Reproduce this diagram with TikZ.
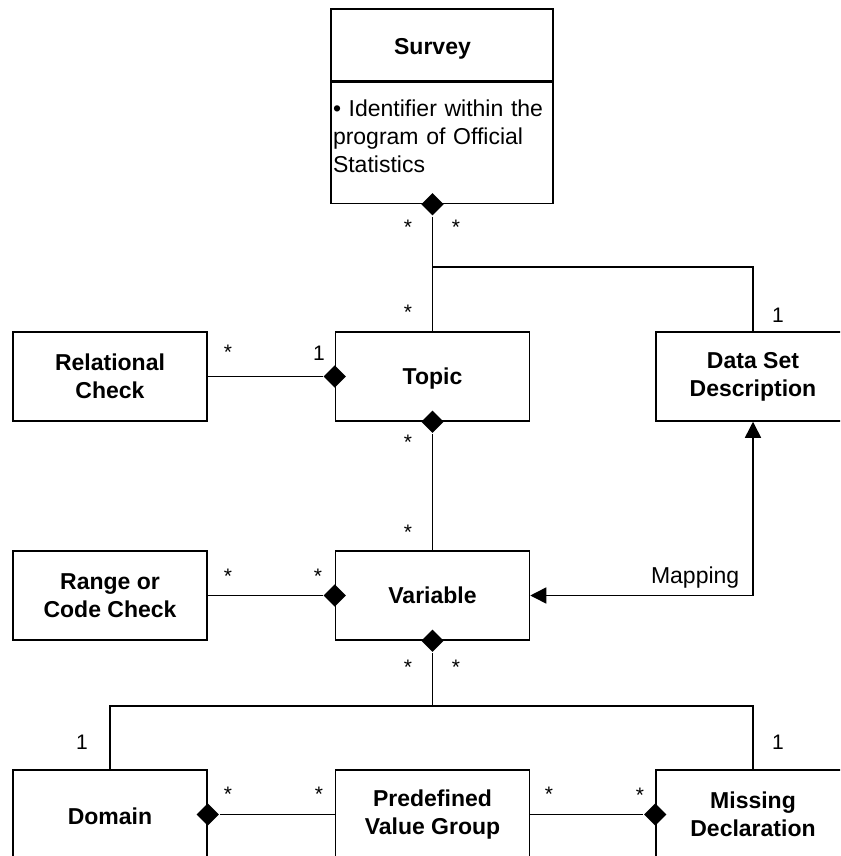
\documentclass[tikz,border=0pt]{standalone}
\usepackage{fontspec}
\setmainfont{Liberation Sans}
\usetikzlibrary{arrows.meta, shapes.geometric}

\begin{document}
\begin{tikzpicture}[x=1pt, y=-1pt, line width=1.5pt,
    >={Triangle[length=16pt, width=16pt]},
    cls/.style={draw, minimum width=194pt, minimum height=89pt, align=center,
        inner sep=2pt, font=\bfseries\fontsize{23}{28}\selectfont},
    agg/.style={diamond, fill=black, inner sep=0pt, minimum width=23pt, minimum height=23pt},
    mult/.style={inner sep=0pt, font=\fontsize{21}{24}\selectfont}]
    % Khung
    \useasboundingbox (0,0) rectangle (840,856);
    \clip (0,0) rectangle (840,856);

    % Survey
    \node[cls, minimum width=222pt, minimum height=72pt, text height=20pt, text depth=0pt]
        (survey) at (442,45) {Survey\hspace*{19pt}};
    \node[draw, anchor=north, inner xsep=2pt, inner ysep=0pt, text width=218pt,
        text height=34pt, text depth=87pt, align=left, font=\fontsize{23}{28}\selectfont]
        (surveyattr) at (survey.south) {\textbullet\ Identifier within the\\program of Official\\Statistics};

    % Cac lop
    \node[cls] (relcheck) at (110,376.5) {Relational\\Check};
    \node[cls, text depth=0pt] (topic) at (432.5,376.5) {Topic};
    \node[cls] (dsd) at (753,376.5) {Data Set\\Description};
    \node[cls] (rangecheck) at (110,595.5) {Range or\\Code Check};
    \node[cls, text depth=0pt] (variable) at (432.5,595.5) {Variable};
    \node[cls, text height=20pt, text depth=0pt] (domain) at (110,814.5) {Domain};
    \node[cls] (pvg) at (432.5,814.5) {Predefined\\Value Group};
    \node[cls] (missing) at (753,814.5) {Missing\\Declaration};

    % Hinh thoi
    \node[agg] (aggsurvey) at (surveyattr.south -| topic.north) {};
    \node[agg] (aggtopicw) at (topic.west) {};
    \node[agg] (aggtopics) at (topic.south) {};
    \node[agg] (aggvarw) at (variable.west) {};
    \node[agg] (aggvars) at (variable.south) {};
    \node[agg] (aggdomain) at (domain.east) {};
    \node[agg] (aggmissing) at (missing.west) {};

    % Duong noi
    \coordinate (jsurvey) at (432.5,267);
    \coordinate (jvar) at (432.5,706);
    \draw (aggsurvey.south) -- (topic.north);
    \draw (jsurvey) -| (dsd.north);
    \draw (relcheck.east) -- (aggtopicw.west);
    \draw (aggtopics.south) -- (variable.north);
    \draw (rangecheck.east) -- (aggvarw.west);
    \draw (aggvars.south) -- (jvar);
    \draw (domain.north) |- (jvar) -| (missing.north);
    \draw (aggdomain.east) -- (pvg.west);
    \draw (pvg.east) -- (aggmissing.west);
    \draw[<->] (variable.east) -| node[pos=0.5, above left, inner xsep=13pt, inner ysep=6pt,
        font=\fontsize{23}{28}\selectfont] (maplabel) {Mapping} (dsd.south);

    % Boi so
    \foreach \px/\py/\txt [count=\i] in {408/227/*, 456/227/*, 408/312/*, 228/352/*, 319/353/1,
        778/315/1, 408/442/*, 408/532/*, 228/576/*, 318/576/*, 408/667/*, 456/667/*,
        82/742/1, 778/742/1, 228/794/*, 319/794/*, 549/794/*, 640/795/*} {
        \node[mult] (mult\i) at (\px,\py) {\txt};
    }
\end{tikzpicture}
\end{document}
